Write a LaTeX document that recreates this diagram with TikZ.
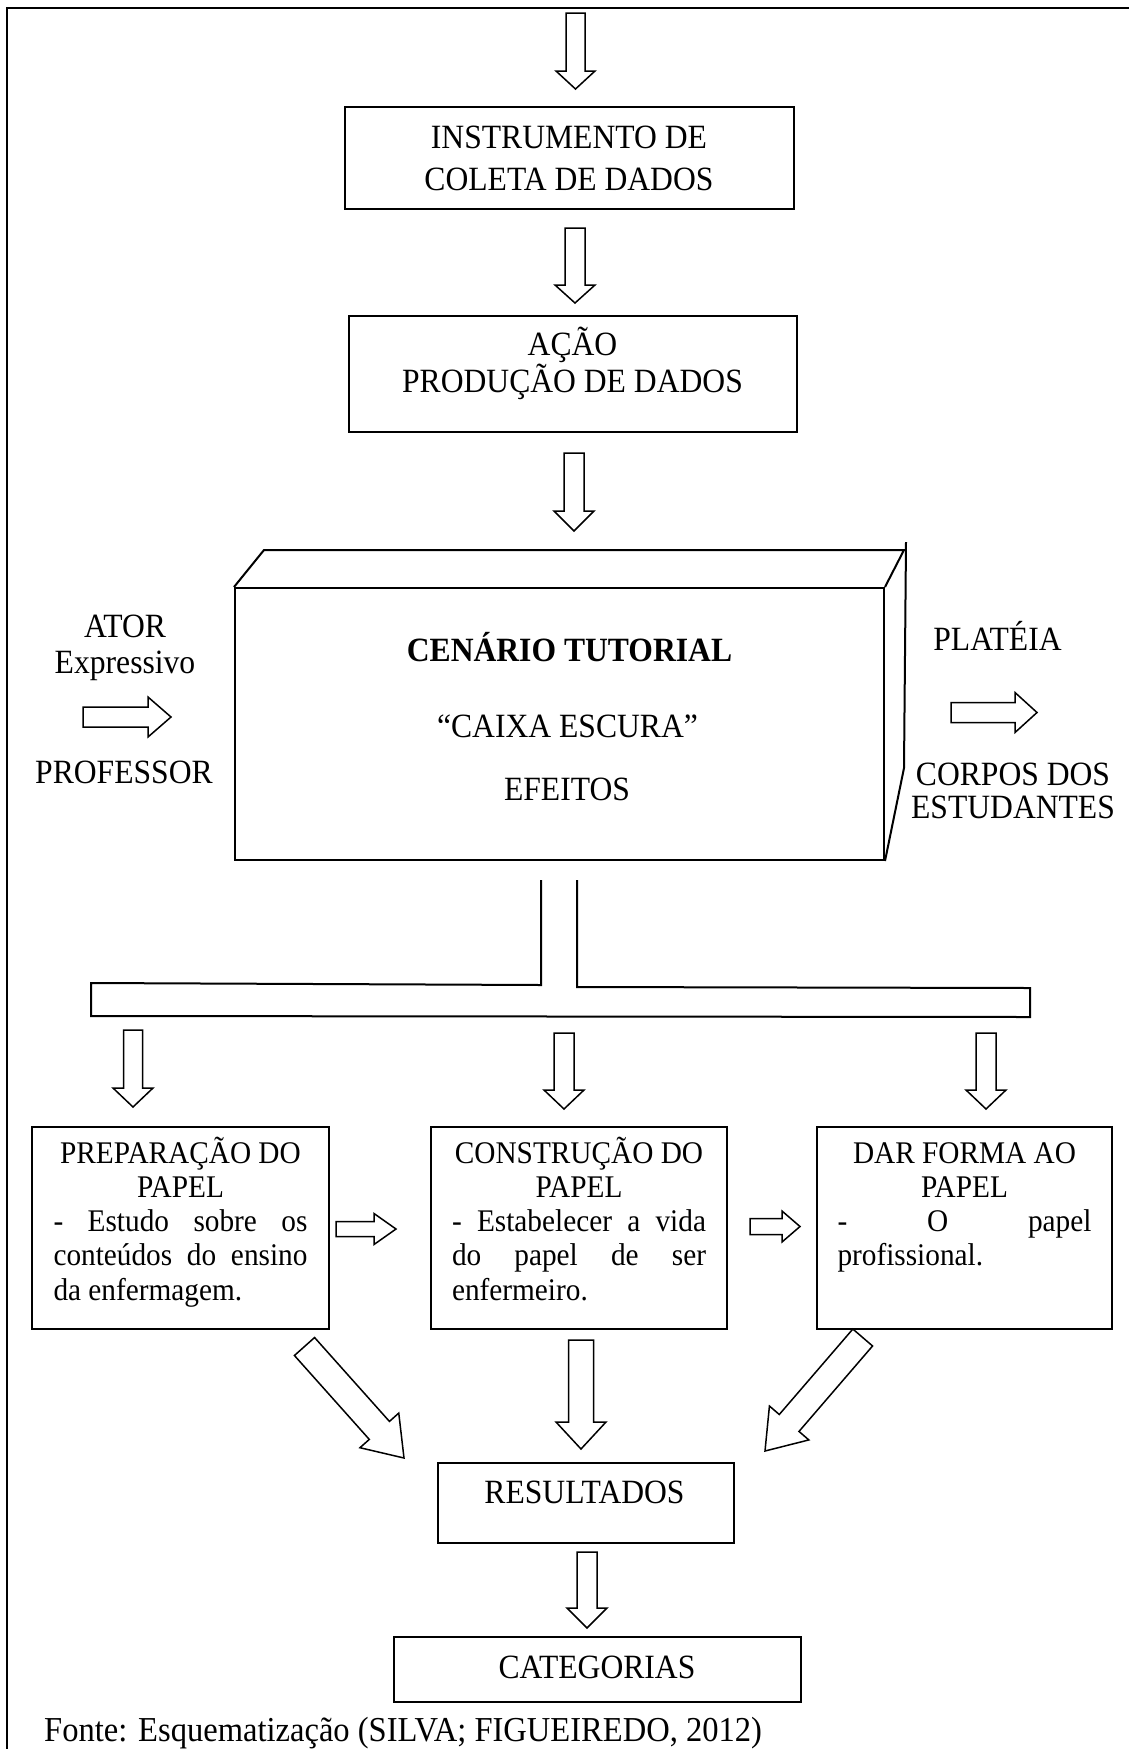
\documentclass[tikz,border=0pt]{standalone}
\usepackage{fontspec}
\setmainfont[FakeStretch=0.93]{Liberation Serif}
\usetikzlibrary{calc}

% Hollow block arrow: #1 name, #2 tail, #3 tip, #4 half shaft width,
% #5 half head width, #6 head length
\newcommand{\fatarrow}[6]{%
  \coordinate (#1-h) at ($(#3)!#6!(#2)$);
  \draw[blockarrow] ($(#2)!#4!90:(#3)$) -- ($(#1-h)!#4!90:(#3)$)
    -- ($(#1-h)!#5!90:(#3)$) -- (#3) -- ($(#1-h)!#5!-90:(#3)$)
    -- ($(#1-h)!#4!-90:(#3)$) -- ($(#2)!#4!-90:(#3)$) -- cycle;}

\tikzset{
  box/.style={draw, line width=2pt, inner sep=0pt},
  box3d/.style={line width=2pt, line join=miter},
  frameline/.style={line width=2pt},
  lbl/.style={font=\fontsize{34}{42}\selectfont, inner sep=0pt, anchor=base},
  sm/.style={font=\fontsize{31.5}{34.5}\selectfont, inner sep=0pt, anchor=base},
  blockarrow/.style={draw, line width=1.5pt, line join=miter, fill=white},
}

\begin{document}
\begin{tikzpicture}[x=1pt, y=-1pt]
\useasboundingbox (0,0) rectangle (1129,1749);

% page frame
\draw[frameline] (1129,8) -- (7,8) -- (7,1749);

% top chain (multi-line labels are placed by their last baseline)
\node[box, minimum width=449pt, minimum height=102pt] (instr) at (569.5,158) {};
\node[lbl, align=center] (instr-t) at (569,190) {INSTRUMENTO DE\\COLETA DE DADOS};

\node[box, minimum width=448pt, minimum height=116pt] (acao) at (573,374) {};
\node[lbl, align=center, font=\fontsize{34}{37}\selectfont] (acao-t) at (572.5,392) {AÇÃO\\PRODUÇÃO DE DADOS};

\coordinate (a1t) at (575.5,13);  \coordinate (a1p) at (575.5,89);
\coordinate (a2t) at (575,228);   \coordinate (a2p) at (575,303);
\coordinate (a3t) at (574,453);   \coordinate (a3p) at (574,531);
\fatarrow{a1}{a1t}{a1p}{9.5pt}{19.5pt}{18pt}
\fatarrow{a2}{a2t}{a2p}{10pt}{20pt}{18pt}
\fatarrow{a3}{a3t}{a3p}{10pt}{20pt}{20pt}

% the stage box
\node[box, minimum width=649pt, minimum height=272pt] (cen) at (559.5,724) {};
\draw[box3d] (cen.north west) -- (264,550) -- (904,550) -- (cen.north east);
\draw[box3d] (906,542) -- (904,768) -- (cen.south east);
\node[lbl, font=\bfseries\fontsize{34}{42}\selectfont] (cen-a) at (569.5,661) {CENÁRIO TUTORIAL};
\node[lbl] (cen-b) at (567.5,737) {“CAIXA ESCURA”};
\node[lbl] (cen-c) at (567,800) {EFEITOS};

% actor side
\node[lbl, align=center, font=\fontsize{34}{36}\selectfont] (ator) at (125,673) {ATOR\\Expressivo};
\node[lbl] (prof) at (124,783) {PROFESSOR};
\coordinate (inT) at (83,717); \coordinate (inP) at (171,717);
\fatarrow{ain}{inT}{inP}{10pt}{20pt}{23pt}

% audience side
\node[lbl] (plat) at (997.5,650) {PLATÉIA};
\node[lbl, align=center, font=\fontsize{34}{33}\selectfont] (corpos) at (1013,818) {CORPOS DOS\\ESTUDANTES};
\coordinate (outT) at (951,712.5); \coordinate (outP) at (1037,712.5);
\fatarrow{aout}{outT}{outP}{10pt}{20pt}{22pt}

% stem and distribution bar
\draw[box3d] (541,880) -- (541,985) -- (91,983) -- (91,1016) -- (1030,1017)
  -- (1030,988) -- (577,987) -- (577,880);

\coordinate (b1t) at (133,1030); \coordinate (b1p) at (133,1107);
\coordinate (b2t) at (564,1033); \coordinate (b2p) at (564,1109);
\coordinate (b3t) at (986,1033); \coordinate (b3p) at (986,1109);
\fatarrow{b1}{b1t}{b1p}{9.5pt}{20pt}{19pt}
\fatarrow{b2}{b2t}{b2p}{10pt}{20pt}{19pt}
\fatarrow{b3}{b3t}{b3p}{10pt}{20pt}{19pt}

% three role boxes
\node[box, minimum width=297pt, minimum height=202pt] (prep) at (180.5,1228) {};
\node[box, minimum width=296pt, minimum height=202pt] (cons) at (579,1228) {};
\node[box, minimum width=295pt, minimum height=202pt] (dar) at (964.5,1228) {};

\node[sm, align=center, font=\fontsize{31.5}{34}\selectfont] (prep-h) at (180.5,1197) {PREPARAÇÃO DO\\PAPEL};
\node[sm, align=center, font=\fontsize{31.5}{34}\selectfont] (cons-h) at (579,1197) {CONSTRUÇÃO DO\\PAPEL};
\node[sm, align=center, font=\fontsize{31.5}{34}\selectfont] (dar-h) at (964.5,1197) {DAR FORMA AO\\PAPEL};

\node[sm, text width=254pt, align=justify] (prep-b) at (180.5,1231)
  {\tolerance=10000\hbadness=10000\noindent - Estudo sobre os\linebreak conteúdos do ensino\linebreak da enfermagem.};
\node[sm, text width=254pt, align=justify] (cons-b) at (579,1231)
  {\tolerance=10000\hbadness=10000\noindent - Estabelecer a vida\linebreak do papel de ser\linebreak enfermeiro.};
\node[sm, text width=254pt, align=justify] (dar-b) at (964.5,1231)
  {\tolerance=10000\hbadness=10000\noindent - O papel\linebreak profissional.};

\coordinate (h1t) at (336,1229); \coordinate (h1p) at (396,1229);
\coordinate (h2t) at (750,1226.5); \coordinate (h2p) at (800,1226.5);
\fatarrow{h1}{h1t}{h1p}{7.5pt}{15.5pt}{22pt}
\fatarrow{h2}{h2t}{h2p}{8pt}{15.5pt}{18pt}

% results
\node[box, minimum width=296pt, minimum height=80pt] (res) at (586,1503) {};
\node[lbl] (res-t) at (584.5,1503) {RESULTADOS};

\coordinate (d1t) at (304.5,1346.5); \coordinate (d1p) at (404,1458);
\coordinate (d2t) at (581,1340);     \coordinate (d2p) at (581,1449);
\coordinate (d3t) at (862.7,1337.5); \coordinate (d3p) at (765,1451);
\fatarrow{d1}{d1t}{d1p}{13.5pt}{26pt}{37pt}
\fatarrow{d2}{d2t}{d2p}{12.5pt}{25pt}{27pt}
\fatarrow{d3}{d3t}{d3p}{13pt}{26pt}{37pt}

% categories
\node[box, minimum width=407pt, minimum height=65pt] (cat) at (597.5,1669.5) {};
\node[lbl] (cat-t) at (597,1678) {CATEGORIAS};
\coordinate (c1t) at (587,1552); \coordinate (c1p) at (587,1628);
\fatarrow{c1}{c1t}{c1p}{10pt}{20pt}{20pt}

% source line
\node[lbl, anchor=base west, font=\fontsize{35}{42}\selectfont] (fonte) at (44,1741) {Fonte: Esquematização (SILVA; FIGUEIREDO, 2012)};
\end{tikzpicture}
\end{document}
